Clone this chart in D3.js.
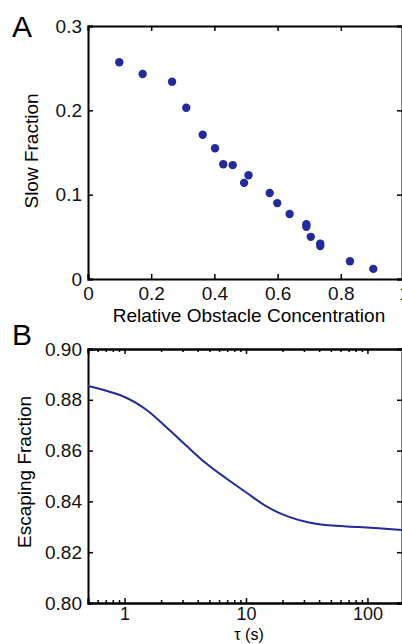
<!DOCTYPE html>
<html>
<head>
<meta charset="utf-8">
<script src="https://cdn.jsdelivr.net/npm/d3@7"></script>
<style>
  body { margin: 0; background: #fff; overflow: hidden; }
  svg { font-family: "Liberation Sans", Arial, sans-serif; }
  .axis path { stroke: #000; stroke-width: 2; }
  .axis line { stroke: #000; stroke-width: 1.5; }
  .axis text { font-size: 19px; fill: #111; }
  .axis.xb text { font-size: 18px; }
</style>
</head>
<body>
<div id="plot"></div>
<script>
// Panel A: slow fraction vs relative obstacle concentration
var concentration = [0.099, 0.173, 0.266, 0.311, 0.363, 0.402, 0.428, 0.458, 0.494, 0.508,
                     0.575, 0.599, 0.638, 0.691, 0.691, 0.705, 0.735, 0.735, 0.829, 0.903];
var slowFraction  = [0.257, 0.243, 0.234, 0.203, 0.171, 0.155, 0.136, 0.135, 0.114, 0.123,
                     0.102, 0.090, 0.077, 0.065, 0.062, 0.050, 0.042, 0.039, 0.021, 0.012];
var xTicksA = [0, 0.2, 0.4, 0.6, 0.8, 1];
var yTicksA = [0, 0.1, 0.2, 0.3];

// Panel B: escaping fraction vs tau
var tau         = [0.5, 1, 1.5, 2.2, 3.2, 4.6, 6.8, 10, 15, 22, 33, 48, 85, 200];
var escFraction = [0.8854, 0.8811, 0.8762, 0.8693, 0.8621, 0.8553, 0.8492, 0.8436,
                   0.8378, 0.8341, 0.8317, 0.8306, 0.8299, 0.8287];
var xTicksB = [1, 10, 100];
var xMinorB = [0.6, 0.7, 0.8, 0.9, 2, 3, 4, 5, 6, 7, 8, 9, 20, 30, 40, 50, 60, 70, 80, 90, 200];
var yTicksB = [0.80, 0.82, 0.84, 0.86, 0.88, 0.90];

var W = 402, H = 644;
var blue = "#232a9c";

var svg = d3.select("#plot")
  .append("svg")
  .attr("width", W)
  .attr("height", H);

var left = 88, right = 404;

// ---------- Panel A ----------
var topA = 26, botA = 279;
var xA = d3.scaleLinear().domain([0, 1]).range([left, right]);
var yA = d3.scaleLinear().domain([0, 0.3]).range([botA, topA]);

svg.append("g").attr("class", "axis")
  .attr("transform", "translate(0," + botA + ")")
  .call(d3.axisBottom(xA).tickValues(xTicksA).tickSize(-5).tickPadding(8).tickFormat(d3.format("")));
svg.append("g").attr("class", "axis")
  .attr("transform", "translate(0," + topA + ")")
  .call(d3.axisTop(xA).tickValues(xTicksA).tickSize(-5).tickFormat(""));
svg.append("g").attr("class", "axis")
  .attr("transform", "translate(" + left + ",0)")
  .call(d3.axisLeft(yA).tickValues(yTicksA).tickSize(-5).tickPadding(6).tickFormat(d3.format("")));
svg.append("g").attr("class", "axis")
  .attr("transform", "translate(" + (right - 2) + ",0)")
  .call(d3.axisRight(yA).tickValues(yTicksA).tickSize(-5).tickFormat(""));

svg.append("g")
  .selectAll("circle")
  .data(concentration)
  .enter()
  .append("circle")
  .attr("cx", function(d) { return xA(d); })
  .attr("cy", function(d, i) { return yA(slowFraction[i]); })
  .attr("r", 4.2)
  .style("fill", blue);

svg.append("text")
  .attr("x", 249).attr("y", 322)
  .attr("text-anchor", "middle")
  .style("font-size", "19px")
  .text("Relative Obstacle Concentration");

svg.append("text")
  .attr("transform", "translate(38,151) rotate(-90)")
  .attr("text-anchor", "middle")
  .style("font-size", "19px")
  .text("Slow Fraction");

svg.append("text")
  .attr("x", 12).attr("y", 37)
  .style("font-size", "30px")
  .text("A");

// ---------- Panel B ----------
var topB = 349, botB = 603;
var xB = d3.scaleLog().domain([0.5, 200]).range([left, right]);
var yB = d3.scaleLinear().domain([0.80, 0.90]).range([botB, topB]);

svg.append("g").attr("class", "axis xb")
  .attr("transform", "translate(0," + botB + ")")
  .call(d3.axisBottom(xB).tickValues(xTicksB).tickSize(-5).tickPadding(4).tickFormat(d3.format("")));
svg.append("g").attr("class", "axis")
  .attr("transform", "translate(0," + botB + ")")
  .call(d3.axisBottom(xB).tickValues(xMinorB).tickSize(-3).tickFormat(""));
svg.append("g").attr("class", "axis")
  .attr("transform", "translate(0," + topB + ")")
  .call(d3.axisTop(xB).tickValues(xTicksB).tickSize(-5).tickFormat(""));
svg.append("g").attr("class", "axis")
  .attr("transform", "translate(0," + topB + ")")
  .call(d3.axisTop(xB).tickValues(xMinorB).tickSize(-3).tickFormat(""));
svg.append("g").attr("class", "axis")
  .attr("transform", "translate(" + left + ",0)")
  .call(d3.axisLeft(yB).tickValues(yTicksB).tickSize(-5).tickPadding(6).tickFormat(d3.format(".2f")));
svg.append("g").attr("class", "axis")
  .attr("transform", "translate(" + (right - 2) + ",0)")
  .call(d3.axisRight(yB).tickValues(yTicksB).tickSize(-5).tickFormat(""));

var line = d3.line()
  .x(function(d) { return xB(d); })
  .y(function(d, i) { return yB(escFraction[i]); })
  .curve(d3.curveCatmullRom.alpha(0.5));

svg.append("path")
  .attr("d", line(tau))
  .attr("fill", "none")
  .attr("stroke", blue)
  .attr("stroke-width", 2);

svg.append("text")
  .attr("x", 249).attr("y", 640)
  .attr("text-anchor", "middle")
  .style("font-size", "16px")
  .text("τ (s)");

svg.append("text")
  .attr("transform", "translate(31,472) rotate(-90)")
  .attr("text-anchor", "middle")
  .style("font-size", "19px")
  .text("Escaping Fraction");

svg.append("text")
  .attr("x", 12).attr("y", 345)
  .style("font-size", "30px")
  .text("B");
</script>
</body>
</html>
